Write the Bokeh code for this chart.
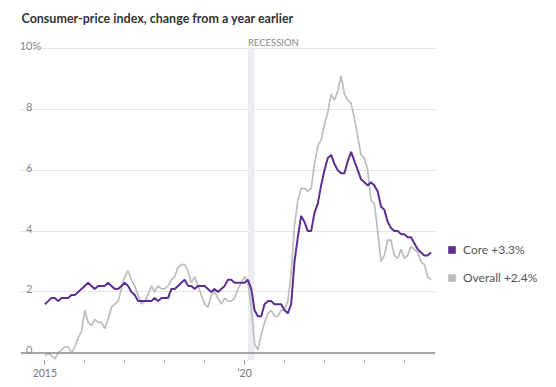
import pandas as pd
from bokeh.plotting import figure
from bokeh.models import (Range1d, FixedTicker, Span, BoxAnnotation, Label,
                          Legend, LegendItem, ColumnDataSource)
from bokeh.core.properties import value
from bokeh.embed import file_html
from bokeh.resources import INLINE

# ---------------- data ----------------
months = pd.date_range("2015-01-01", "2024-09-01", freq="MS")

core = [
    1.6, 1.7, 1.8, 1.8, 1.7, 1.8, 1.8, 1.8, 1.9, 1.9, 2.0, 2.1,   # 2015
    2.2, 2.3, 2.2, 2.1, 2.2, 2.2, 2.2, 2.3, 2.2, 2.1, 2.1, 2.2,   # 2016
    2.3, 2.2, 2.0, 1.9, 1.7, 1.7, 1.7, 1.7, 1.7, 1.8, 1.7, 1.8,   # 2017
    1.8, 1.8, 2.1, 2.1, 2.2, 2.3, 2.4, 2.2, 2.2, 2.1, 2.2, 2.2,   # 2018
    2.2, 2.1, 2.0, 2.1, 2.0, 2.1, 2.2, 2.4, 2.4, 2.3, 2.3, 2.3,   # 2019
    2.3, 2.4, 2.1, 1.4, 1.2, 1.2, 1.6, 1.7, 1.7, 1.6, 1.6, 1.6,   # 2020
    1.4, 1.3, 1.6, 3.0, 3.8, 4.5, 4.3, 4.0, 4.0, 4.6, 4.9, 5.5,   # 2021
    6.0, 6.4, 6.5, 6.2, 6.0, 5.9, 5.9, 6.3, 6.6, 6.3, 6.0, 5.7,   # 2022
    5.6, 5.5, 5.6, 5.5, 5.3, 4.8, 4.7, 4.3, 4.1, 4.0, 4.0, 3.9,   # 2023
    3.9, 3.8, 3.8, 3.6, 3.4, 3.3, 3.2, 3.2, 3.3,                  # 2024
]

overall = [
    -0.1, 0.0, -0.1, -0.2, 0.0, 0.1, 0.2, 0.2, 0.0, 0.2, 0.5, 0.7,  # 2015
    1.4, 1.0, 0.9, 1.1, 1.0, 1.0, 0.8, 1.1, 1.5, 1.6, 1.7, 2.1,     # 2016
    2.5, 2.7, 2.4, 2.2, 1.9, 1.6, 1.7, 1.9, 2.2, 2.0, 2.2, 2.1,     # 2017
    2.1, 2.2, 2.4, 2.5, 2.8, 2.9, 2.9, 2.7, 2.3, 2.5, 2.2, 1.9,     # 2018
    1.6, 1.5, 1.9, 2.0, 1.8, 1.6, 1.8, 1.7, 1.7, 1.8, 2.1, 2.3,     # 2019
    2.5, 2.3, 1.5, 0.3, 0.1, 0.6, 1.0, 1.3, 1.4, 1.2, 1.2, 1.4,     # 2020
    1.4, 1.7, 2.6, 4.2, 5.0, 5.4, 5.4, 5.3, 5.4, 6.2, 6.8, 7.0,     # 2021
    7.5, 7.9, 8.5, 8.3, 8.6, 9.1, 8.5, 8.3, 8.2, 7.7, 7.1, 6.5,     # 2022
    6.4, 6.0, 5.0, 4.9, 4.0, 3.0, 3.2, 3.7, 3.7, 3.2, 3.1, 3.4,     # 2023
    3.1, 3.2, 3.5, 3.4, 3.3, 3.0, 2.9, 2.5, 2.4,                    # 2024
]

y_ticks = [0, 2, 4, 6, 8, 10]
y_tick_labels = ["0", "2", "4", "6", "8", "10"]
x_tick_years = [2015, 2020]
x_tick_labels = ["2015", "\u201920"]
x_minor_years = [2016, 2017, 2018, 2019, 2021, 2022, 2023, 2024]
recession = ("2020-02-01", "2020-04-01")
legend_labels = ["Core +3.3%", "Overall +2.4%"]
title = "Consumer-price index, change from a year earlier"

# ---------------- styles ----------------
PURPLE = "#5c2e91"
GRAY = "#bdbdbd"
FONT = "Lato"


def dec_year(ts):
    ts = pd.Timestamp(ts)
    return ts.year + (ts.month - 1) / 12.0


xs = [dec_year(m) for m in months]
src = ColumnDataSource(dict(x=xs, core=core, overall=overall))

X0, X1 = 2014.39, 2024.78
Y0, Y1 = -0.25, 10.587
p = figure(frame_width=415, frame_height=330,
           x_range=Range1d(X0, X1), y_range=Range1d(Y0, Y1),
           output_backend="svg", toolbar_location=None,
           min_border_left=20, min_border_right=113, min_border_top=30,
           min_border_bottom=0)
p.outline_line_color = None
p.background_fill_color = "white"
p.border_fill_color = "white"

# title
p.title.text = title
p.title.text_font = FONT
p.title.text_font_style = "bold"
p.title.text_font_size = "12.5px"
p.title.text_color = "#333333"
p.title.align = "left"
p.title.vertical_align = "middle"
p.title.offset = 1
p.title.standoff = 8

# grid
p.xgrid.visible = False
p.ygrid.ticker = FixedTicker(ticks=[t for t in y_ticks if t != 0])
p.ygrid.grid_line_color = "#e4e4e4"
p.ygrid.grid_line_width = 1

# y axis hidden, labels drawn inside
p.yaxis.visible = False

# x axis
ax = p.xaxis[0]
ax.ticker = FixedTicker(ticks=x_tick_years, minor_ticks=x_minor_years)
ax.major_label_overrides = {y: l for y, l in zip(x_tick_years, x_tick_labels)}
ax.axis_line_color = None
ax.major_tick_in = 0
ax.major_tick_out = 4
ax.minor_tick_in = 0
ax.minor_tick_out = 2
ax.major_tick_line_color = "#888888"
ax.minor_tick_line_color = "#888888"
ax.major_label_standoff = 2
ax.major_label_text_font = FONT
ax.major_label_text_font_size = "10.5px"
ax.major_label_text_color = "#777777"

# recession band
rx0, rx1 = dec_year(recession[0]), dec_year(recession[1])
p.add_layout(BoxAnnotation(left=rx0, right=rx1, top=10, fill_color="#ebedf3",
                           fill_alpha=1, line_color=None, level="underlay"))
p.add_layout(Label(x=rx0, y=10, text="RECESSION", y_offset=6,
                   text_font=FONT, text_font_size="9.5px", text_color="#888888",
                   text_baseline="alphabetic", text_align="left"))

# y labels
ysrc = ColumnDataSource(dict(x=[X0] * len(y_ticks), y=y_ticks, t=y_tick_labels))
p.text(x="x", y="y", text="t", source=ysrc, x_offset=12, y_offset=-2.5,
       text_align="right", text_baseline="alphabetic",
       text_font=value(FONT), text_font_size="11px", text_color="#888888")
p.text(x=[X0], y=[y_ticks[-1]], text=["%"], x_offset=12, y_offset=-2.5,
       text_align="left", text_baseline="alphabetic",
       text_font=value(FONT), text_font_size="11px", text_color="#888888")

# baseline
p.add_layout(Span(location=0, dimension="width", line_color="#8a8a8a",
                  line_width=1.5))

# lines
p.line("x", "overall", source=src, line_color=GRAY, line_width=1.7)
p.line("x", "core", source=src, line_color=PURPLE, line_width=2)

# legend (square swatches; renderers hold no drawable point)
nan = float("nan")
swatch = ColumnDataSource(dict(x=[nan], y=[nan]))
r_core = p.scatter("x", "y", source=swatch, marker="square", size=8,
                   fill_color=PURPLE, line_color=None)
r_over = p.scatter("x", "y", source=swatch, marker="square", size=8,
                   fill_color="#bbbbbb", line_color=None)
legend = Legend(items=[LegendItem(label=legend_labels[0], renderers=[r_core]),
                       LegendItem(label=legend_labels[1], renderers=[r_over])],
                location=(7, 73), orientation="vertical",
                glyph_width=19, glyph_height=19, label_height=19,
                spacing=9, padding=0, margin=0, label_standoff=2,
                background_fill_alpha=0, border_line_color=None,
                label_text_font=FONT, label_text_font_size="12px",
                label_text_color="#555555")
p.add_layout(legend, "right")

open("out.html", "w").write(file_html(p, INLINE))
